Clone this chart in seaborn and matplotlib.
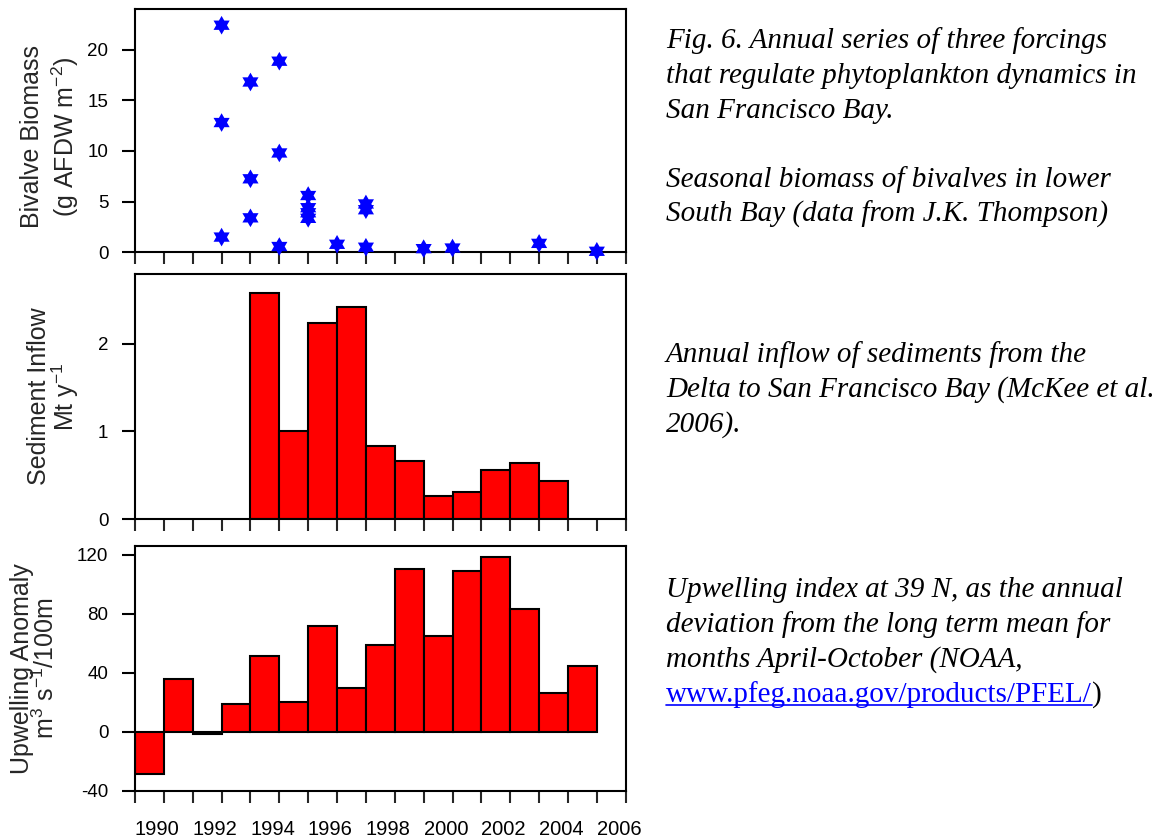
import numpy as np
import pandas as pd
import matplotlib
matplotlib.use("Agg")
import matplotlib.pyplot as plt
from matplotlib.lines import Line2D
import seaborn as sns

# ---------------- data ----------------
upwelling_years = list(range(1990, 2006))
upwelling_anomaly = [-29.0, 36.0, -1.6, 18.6, 51.4, 20.2, 71.5, 29.7,
                     58.9, 110.7, 65.2, 109.4, 118.6, 83.3, 26.0, 44.6]

sediment_years = list(range(1994, 2005))
sediment_inflow = [2.58, 1.01, 2.24, 2.42, 0.84, 0.66, 0.26, 0.31, 0.56, 0.64, 0.43]

bivalve_time = [1992.5, 1992.5, 1992.5,
                1993.5, 1993.5, 1993.5,
                1994.5, 1994.5, 1994.5,
                1995.5, 1995.5, 1995.5, 1995.5,
                1996.5,
                1997.5, 1997.5, 1997.5,
                1999.5, 2000.5, 2003.5, 2005.5]
bivalve_biomass = [22.4, 12.8, 1.5,
                   16.8, 7.25, 3.4,
                   18.85, 9.8, 0.57,
                   5.6, 4.4, 3.9, 3.35,
                   0.79,
                   4.77, 4.2, 0.5,
                   0.36, 0.42, 0.88, 0.1]

label_years = list(range(1990, 2007, 2))
year_labels = [str(y) for y in label_years]

y1_ticks = [0, 5, 10, 15, 20]
y2_ticks = [0, 1, 2]
y3_ticks = [-40, 0, 40, 80, 120]

caption_1 = ["Fig. 6. Annual series of three forcings",
             "that regulate phytoplankton dynamics in",
             "San Francisco Bay."]
caption_2 = ["Seasonal biomass of bivalves in lower",
             "South Bay (data from J.K. Thompson)"]
caption_3 = ["Annual inflow of sediments from the",
             "Delta to San Francisco Bay (McKee et al.",
             "2006)."]
caption_4 = ["Upwelling index at 39 N, as the annual",
             "deviation from the long term mean for",
             "months April-October (NOAA,"]
caption_url = "www.pfeg.noaa.gov/products/PFEL/"

# ---------------- style ----------------
sns.set_style("white")
plt.rcParams['font.family'] = ['Liberation Sans', 'DejaVu Sans']
plt.rcParams['mathtext.fontset'] = 'custom'
plt.rcParams['mathtext.rm'] = 'Liberation Sans'
plt.rcParams['mathtext.it'] = 'Liberation Sans:italic'
plt.rcParams['mathtext.bf'] = 'Liberation Sans:bold'
plt.rcParams['axes.unicode_minus'] = False

W, H = 1161, 838
fig = plt.figure(figsize=(W / 100, H / 100), dpi=100)

left = 135 / W
width = (625.7 - 135) / W
ax1 = fig.add_axes([left, 1 - 252.3 / H, width, (252.3 - 9) / H])
ax2 = fig.add_axes([left, 1 - 519 / H, width, (519 - 274) / H])
ax3 = fig.add_axes([left, 1 - 790.6 / H, width, (790.6 - 545.7) / H])

# bivalve stars (hexagram marker shape)
ang_out = np.deg2rad(90 + 60 * np.arange(6))
ang_in = ang_out + np.deg2rad(30)
verts = []
for a, b in zip(ang_out, ang_in):
    verts.append((np.cos(a), np.sin(a)))
    verts.append((np.cos(b) / np.sqrt(3), np.sin(b) / np.sqrt(3)))
verts.append(verts[0])

sns.scatterplot(x=bivalve_time, y=bivalve_biomass, marker=verts, s=180,
                color='#0000ff', edgecolor='none', linewidth=0, ax=ax1, zorder=4)
for c in ax1.collections:
    c.set_clip_on(False)

sns.barplot(x=sediment_years, y=sediment_inflow, native_scale=True, width=1.0,
            color='#ff0000', saturation=1, edgecolor='black', linewidth=1.5,
            errorbar=None, ax=ax2)
sns.barplot(x=upwelling_years, y=upwelling_anomaly, native_scale=True, width=1.0,
            color='#ff0000', saturation=1, edgecolor='black', linewidth=1.5,
            errorbar=None, ax=ax3)

ax1.set_ylim(0, 24)
ax2.set_ylim(0, 2.8)
ax3.set_ylim(-40, 126.3)
ax1.set_yticks(y1_ticks)
ax2.set_yticks(y2_ticks)
ax3.set_yticks(y3_ticks)

for ax in (ax1, ax2, ax3):
    ax.set_xlim(1989.5, 2006.5)
    ax.set_xticks(np.arange(1989.5, 2007.0, 1.0))
    ax.set_xticklabels([])
    ax.set_xlabel("")
    for sp in ax.spines.values():
        sp.set_visible(True)
        sp.set_linewidth(1.5)
        sp.set_color('black')
    ax.tick_params(axis='y', which='major', direction='out', length=9.4, width=1.5,
                   pad=9.8, labelsize=13.5, colors='black', left=True, right=False)
    ax.tick_params(axis='x', which='major', direction='out', length=8.4, width=1.5,
                   bottom=True, top=False)
    ax.grid(False)

ax3.set_xticks([y + 0.27 for y in label_years], minor=True)
ax3.set_xticklabels(year_labels, minor=True)
ax3.tick_params(axis='x', which='minor', length=0, pad=21.5, labelsize=14.5, colors='black')

lab_kw = dict(fontsize=18, ha='center', va='center', rotation_mode='default')
ax1.set_ylabel("Bivalve Biomass\n(g AFDW m$^{-2}$)", linespacing=1.2, **lab_kw)
ax2.set_ylabel("Sediment Inflow\nMt y$^{-1}$", linespacing=0.95, **lab_kw)
ax3.set_ylabel("Upwelling Anomaly\nm$^{3}$ s$^{-1}$/100m", linespacing=0.9, **lab_kw)
ax1.yaxis.set_label_coords((50.5 - 135) / 490.7, 0.476)
ax2.yaxis.set_label_coords((54 - 135) / 490.7, 0.5)
ax3.yaxis.set_label_coords((34.5 - 135) / 490.7, 0.5)

# ---------------- captions ----------------
tx = 666 / W
cap_kw = dict(fontsize=21, family='Liberation Serif', style='italic', va='baseline',
              ha='left', color='black')
blocks = [(caption_1, 48.3), (caption_2, 186.7), (caption_3, 361.7), (caption_4, 596.7)]
for lines, b0 in blocks:
    for k, line in enumerate(lines):
        fig.text(tx, 1 - (b0 + 35 * k) / H, line, **cap_kw)

url_base = 596.7 + 35 * 3
url = fig.text(tx, 1 - url_base / H, caption_url, fontsize=21, family='Liberation Serif',
               va='baseline', ha='left', color='#0000ff')
fig.canvas.draw()
bb = url.get_window_extent(renderer=fig.canvas.get_renderer())
ul_y = 1 - (url_base + 3) / H
fig.add_artist(Line2D([bb.x0 / W, bb.x1 / W], [ul_y, ul_y], color='#0000ff', lw=1.2,
                      transform=fig.transFigure))
fig.text(bb.x1 / W, 1 - url_base / H, ")", fontsize=21, family='Liberation Serif',
         va='baseline', ha='left', color='black')

fig.savefig("out.png", dpi=100)
